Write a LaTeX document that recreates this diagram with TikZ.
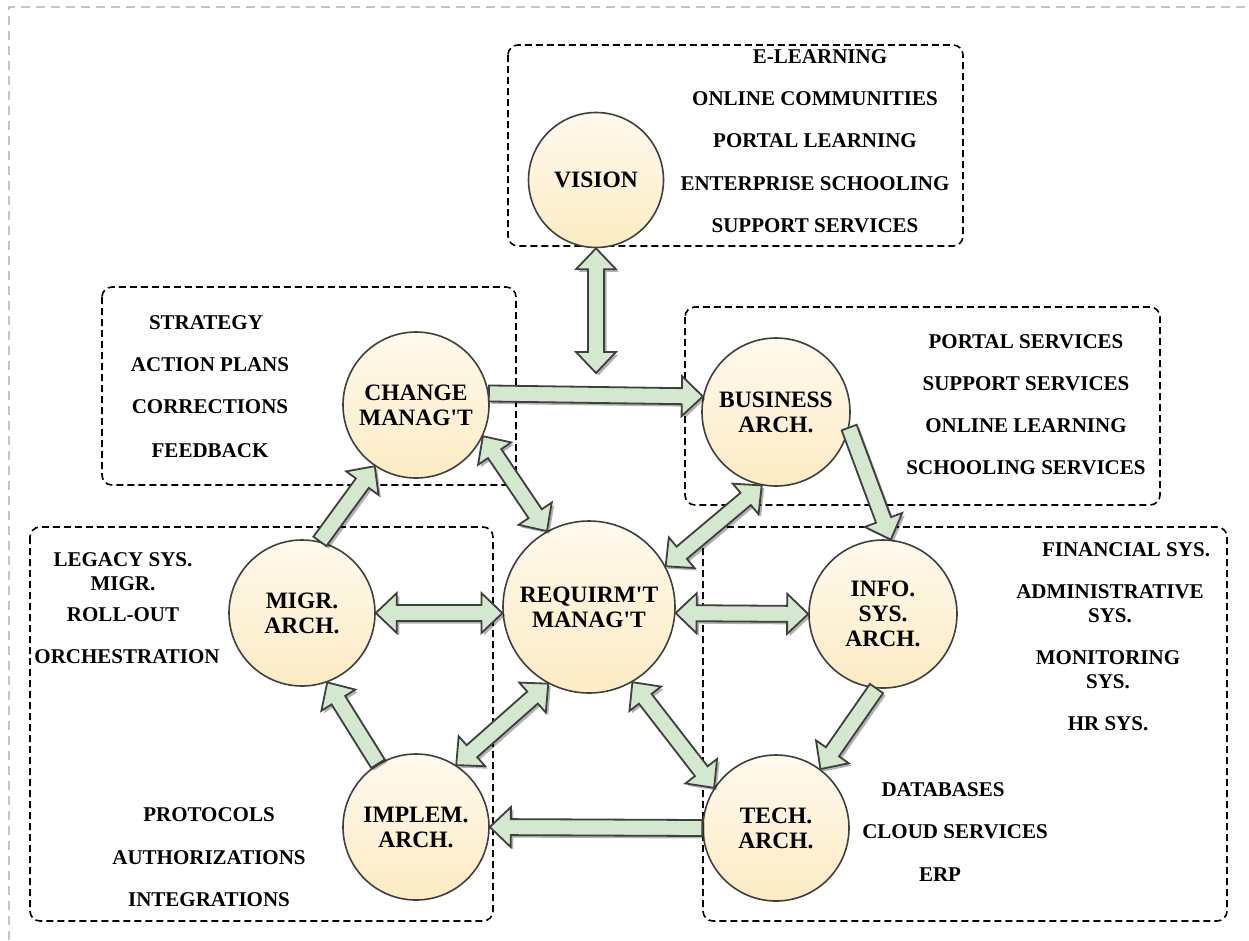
\documentclass[tikz,border=0pt]{standalone}
\usepackage{fontspec}
\setmainfont{Liberation Serif}
\usetikzlibrary{calc,shadows}
\definecolor{arrowfill}{HTML}{D3E8CF}
\definecolor{arrowline}{HTML}{3F3F3F}
\definecolor{circtop}{HTML}{FFFAEE}
\definecolor{circbot}{HTML}{FCEBC3}
\definecolor{framegray}{HTML}{C4C4C4}
\tikzset{
  unit/.style={circle, draw=arrowline, line width=1.6pt, top color=circtop, bottom color=circbot,
    inner sep=0pt, align=center, font=\fontsize{23.5}{25}\selectfont\bfseries},
  lst/.style={align=center, font=\fontsize{21}{24}\selectfont\bfseries, inner sep=0pt},
  grp/.style={draw=black, line width=1.6pt, dash pattern=on 7pt off 4pt, rounded corners=10pt},
  fat/.style={fill=arrowfill, draw=arrowline, line width=1.8pt, line join=miter,
    drop shadow={opacity=0.3, shadow xshift=2.5pt, shadow yshift=-2.5pt, fill=black}},
  frame/.style={draw=framegray, line width=2pt, dash pattern=on 9pt off 6pt},
}
\newcommand\apo{\textquotesingle}
% single block arrow from #1 to #2
\newcommand\fatsingle[2]{%
  \coordinate (fahead) at ($(#2)!21pt!(#1)$);
  \path[fat] ($(#1)!8pt!90:(#2)$) -- ($(fahead)!8pt!90:(#2)$) -- ($(fahead)!20pt!90:(#2)$)
    -- (#2) -- ($(fahead)!20pt!-90:(#2)$) -- ($(fahead)!8pt!-90:(#2)$) -- ($(#1)!8pt!-90:(#2)$) -- cycle;}
% double block arrow between #1 and #2
\newcommand\fatdouble[2]{%
  \coordinate (faheadA) at ($(#1)!21pt!(#2)$);
  \coordinate (faheadB) at ($(#2)!21pt!(#1)$);
  \path[fat] (#1) -- ($(faheadA)!20pt!90:(#2)$) -- ($(faheadA)!8pt!90:(#2)$)
    -- ($(faheadB)!8pt!90:(#2)$) -- ($(faheadB)!20pt!90:(#2)$) -- (#2)
    -- ($(faheadB)!20pt!-90:(#2)$) -- ($(faheadB)!8pt!-90:(#2)$)
    -- ($(faheadA)!8pt!-90:(#2)$) -- ($(faheadA)!20pt!-90:(#2)$) -- cycle;}
\begin{document}
\begin{tikzpicture}[x=1pt,y=-1pt]
\useasboundingbox (0,0) rectangle (1249,940);
% outer page frame
\draw[frame] (9,940) -- (9,7) -- (1249,7);
% group boxes
\draw[grp] (508,45) rectangle (963,246);
\draw[grp] (102,287) rectangle (516,485);
\draw[grp] (685,307) rectangle (1160,505);
\draw[grp] (30,527) rectangle (493,921);
\draw[grp] (703,527) rectangle (1227,921);
% circles
\node[unit, minimum size=135pt] (vis) at (596,180) {VISION};
\node[unit, minimum size=146pt] (chg) at (416,405) {CHANGE\\MANAG\apo T};
\node[unit, minimum size=148pt] (bus) at (776,412) {BUSINESS\\ARCH.};
\node[unit, minimum size=172pt] (req) at (589,607) {REQUIRM\apo T\\MANAG\apo T};
\node[unit, minimum size=146pt] (mig) at (302,613) {MIGR.\\ARCH.};
\node[unit, minimum size=148pt] (inf) at (883,614) {INFO.\\SYS.\\ARCH.};
\node[unit, minimum size=146pt] (imp) at (416,827) {IMPLEM.\\ARCH.};
\node[unit, minimum size=146pt] (tec) at (776,828) {TECH.\\ARCH.};
% lists
\node[lst] (v1) at (820,57) {E-LEARNING};
\node[lst] (v2) at (815,99) {ONLINE COMMUNITIES};
\node[lst] (v3) at (815,141) {PORTAL LEARNING};
\node[lst] (v4) at (815,184) {ENTERPRISE SCHOOLING};
\node[lst] (v5) at (815,226) {SUPPORT SERVICES};
\node[lst] (c1) at (206,323) {STRATEGY};
\node[lst] (c2) at (210,365) {ACTION PLANS};
\node[lst] (c3) at (210,407) {CORRECTIONS};
\node[lst] (c4) at (210,451) {FEEDBACK};
\node[lst] (b1) at (1026,342) {PORTAL SERVICES};
\node[lst] (b2) at (1026,384) {SUPPORT SERVICES};
\node[lst] (b3) at (1026,426) {ONLINE LEARNING};
\node[lst] (b4) at (1026,468) {SCHOOLING SERVICES};
\node[lst] (m1) at (123,572) {LEGACY SYS.\\MIGR.};
\node[lst] (m2) at (123,615) {ROLL-OUT};
\node[lst] (m3) at (127,657) {ORCHESTRATION};
\node[lst] (p1) at (209,815) {PROTOCOLS};
\node[lst] (p2) at (209,858) {AUTHORIZATIONS};
\node[lst] (p3) at (209,900) {INTEGRATIONS};
\node[lst] (f1) at (1126,550) {FINANCIAL SYS.};
\node[lst] (f2) at (1110,604) {ADMINISTRATIVE\\SYS.};
\node[lst] (f3) at (1108,670) {MONITORING\\SYS.};
\node[lst] (f4) at (1108,724) {HR SYS.};
\node[lst] (t1) at (943,790) {DATABASES};
\node[lst] (t2) at (955,832) {CLOUD SERVICES};
\node[lst] (t3) at (940,875) {ERP};
% arrows
\coordinate (vend) at (596,373);
\fatdouble{vis.south}{vend}
\fatsingle{chg.9}{bus.168}
\fatdouble{chg.-25}{req.119}
\fatdouble{bus.-101}{req.28}
\fatsingle{bus.-12}{inf.84}
\fatdouble{mig.0}{req.184}
\fatdouble{req.-4}{inf.180}
\fatdouble{req.-118}{imp.57}
\fatdouble{req.-60}{tec.147}
\fatsingle{inf.-95}{tec.53}
\fatsingle{tec.180}{imp.0}
\fatsingle{imp.121}{mig.-70}
\fatsingle{mig.76}{chg.-124}
\end{tikzpicture}
\end{document}
